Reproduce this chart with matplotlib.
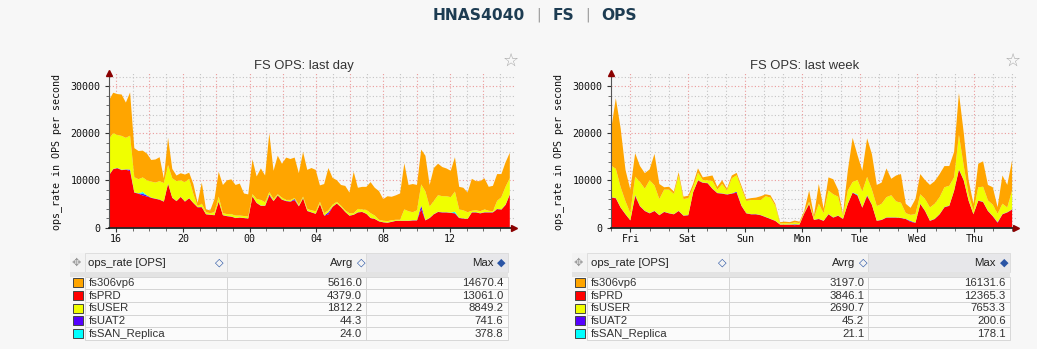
import numpy as np
import matplotlib.pyplot as plt
from matplotlib.patches import Rectangle

W, H = 1037, 349

series_names = ["fs306vp6", "fsPRD", "fsUSER", "fsUAT2", "fsSAN_Replica"]
series_colors = ["#FFA500", "#FF0000", "#F0FF00", "#5500FF", "#00FFFF"]

# last day: 15 min samples from 15:35, values in kOPS (UAT2 / SAN in OPS)
day_prd = [11.1, 12.4, 12.6, 12.2, 12.3, 12.0, 7.4, 7.2, 6.8, 6.6, 6.3, 6.1,
           5.9, 5.5, 9.3, 6.3, 5.6, 6.5, 5.5, 6.2, 5.2, 4.3, 4.3, 2.8,
           2.7, 2.6, 5.5, 2.6, 2.4, 2.3, 2.0, 2.1, 2.0, 1.9, 6.6, 5.2,
           4.6, 4.6, 6.8, 5.6, 6.8, 5.9, 5.6, 5.5, 5.8, 4.5, 6.2, 3.5,
           3.2, 2.9, 5.0, 2.5, 2.8, 4.4, 5.1, 4.3, 3.3, 2.5, 2.7, 3.2,
           3.3, 2.9, 2.0, 1.8, 1.3, 1.1, 1.0, 1.2, 1.4, 1.4, 1.4, 1.4,
           1.5, 1.5, 3.9, 1.5, 2.0, 2.8, 3.3, 3.2, 3.2, 3.1, 3.0, 2.0,
           1.9, 1.8, 3.2, 3.2, 3.0, 3.2, 3.2, 3.2, 3.9, 3.8, 4.8, 7.0]
day_user = [7.7, 7.6, 7.0, 7.2, 6.7, 7.2, 3.2, 3.0, 3.1, 3.2, 3.4, 3.4,
            3.9, 3.9, 3.9, 4.1, 4.2, 3.5, 4.1, 4.1, 1.9, 0.2, 0.7, 0.4,
            0.3, 0.6, 1.0, 0.4, 0.4, 0.5, 0.5, 0.4, 0.4, 0.4, 0.4, 0.8,
            1.2, 0.7, 0.5, 0.4, 0.2, 0.4, 0.2, 0.3, 0.2, 0.3, 0.3, 0.4,
            0.4, 0.5, 0.4, 0.5, 0.4, 0.4, 0.3, 0.3, 0.3, 0.5, 0.3, 0.7,
            0.5, 0.8, 1.0, 0.7, 0.3, 0.3, 0.3, 0.3, 0.2, 0.2, 2.4, 2.0,
            1.7, 2.1, 4.5, 6.1, 2.4, 2.8, 3.5, 3.4, 3.4, 3.3, 4.3, 1.8,
            1.7, 1.4, 0.3, 0.4, 0.4, 0.6, 0.3, 0.2, 1.7, 2.6, 3.8, 3.4]
day_306 = [8.2, 8.6, 8.7, 8.8, 7.5, 9.2, 6.2, 6.0, 5.7, 5.7, 4.6, 4.9,
           5.1, 1.0, 5.8, 2.0, 1.2, 1.5, 1.6, 1.3, 2.1, 0.7, 4.5, 0.6,
           0.6, 2.8, 5.3, 6.0, 7.2, 7.4, 6.5, 6.8, 4.8, 4.7, 7.4, 4.8,
           6.7, 5.7, 12.5, 6.0, 8.2, 7.2, 9.0, 8.7, 8.6, 6.7, 9.5, 8.3,
           9.0, 8.8, 3.5, 6.2, 9.0, 5.7, 4.6, 4.4, 5.2, 4.4, 8.8, 4.5,
           4.8, 4.9, 6.6, 5.9, 6.1, 4.6, 5.3, 5.0, 5.2, 5.6, 9.8, 5.6,
           6.0, 5.4, 7.4, 7.6, 4.6, 7.0, 6.7, 6.2, 5.9, 5.6, 7.3, 4.8,
           4.8, 4.2, 6.8, 6.2, 6.4, 6.6, 5.1, 5.4, 5.7, 4.9, 5.2, 5.4]
day_uat2 = [40, 45, 50, 60, 55, 300, 60, 50, 380, 200, 45, 40,
            35, 40, 60, 40, 35, 30, 40, 35, 30, 30, 40, 30,
            25, 30, 40, 30, 30, 25, 30, 30, 25, 25, 60, 40,
            45, 40, 220, 40, 45, 40, 50, 45, 260, 40, 45, 40,
            35, 30, 40, 30, 420, 35, 40, 30, 30, 25, 30, 35,
            30, 30, 35, 30, 25, 25, 30, 25, 30, 30, 35, 30,
            30, 35, 740, 40, 35, 40, 45, 40, 35, 40, 50, 35,
            30, 30, 35, 40, 35, 40, 35, 40, 45, 40, 50, 60]
day_san = [20, 25, 30, 25, 20, 30, 25, 20, 370, 30, 20, 25,
           20, 20, 25, 20, 20, 15, 20, 20, 15, 15, 20, 15,
           15, 15, 20, 15, 15, 15, 15, 15, 15, 15, 25, 20,
           25, 20, 20, 20, 25, 20, 25, 20, 20, 20, 25, 20,
           20, 15, 20, 15, 30, 20, 20, 15, 15, 15, 15, 20,
           15, 15, 20, 15, 15, 15, 15, 15, 15, 15, 20, 20,
           20, 20, 30, 25, 20, 20, 25, 20, 20, 20, 300, 20,
           20, 20, 20, 25, 20, 25, 20, 25, 25, 20, 30, 35]

# last week: 2 h samples, x in days counted from Fri 00:00
week_prd = [6.4, 6.2, 4.2, 2.8, 1.5, 6.7, 4.5, 3.5, 3.0, 3.5, 2.6, 3.3,
            3.0, 2.8, 3.5, 2.5, 2.6, 7.5, 10.0, 9.5, 9.4, 8.2, 7.3, 7.2,
            7.0, 7.2, 7.4, 4.6, 3.0, 2.8, 2.8, 2.6, 2.2, 1.8, 1.4, 0.6,
            0.6, 0.6, 0.5, 0.6, 3.0, 5.0, 1.6, 1.8, 1.4, 2.8, 2.1, 2.5,
            1.8, 5.0, 7.4, 6.8, 4.2, 6.7, 4.8, 1.4, 1.6, 2.1, 2.1, 2.1,
            2.0, 1.8, 1.2, 1.0, 5.0, 3.5, 1.4, 1.8, 2.8, 4.3, 4.6, 7.8,
            12.3, 10.0, 5.7, 2.8, 5.7, 5.4, 3.5, 2.4, 1.0, 2.8, 3.2, 3.8]
week_user = [6.7, 6.2, 4.3, 2.7, 1.5, 3.9, 5.1, 4.7, 7.0, 5.4, 3.4, 4.7,
             5.0, 4.3, 7.5, 3.5, 3.6, 1.0, 1.6, 0.5, 0.6, 1.6, 0.7, 2.0,
             0.8, 3.2, 3.5, 3.7, 2.6, 3.0, 3.0, 3.2, 4.4, 4.5, 3.2, 0.2,
             0.3, 0.2, 0.4, 0.3, 0.2, 0.4, 0.4, 3.2, 1.6, 5.0, 4.9, 4.0,
             0.6, 2.8, 2.2, 3.1, 3.4, 3.9, 3.2, 3.1, 3.4, 4.3, 4.7, 3.4,
             3.2, 1.2, 1.3, 1.8, 2.0, 2.5, 2.8, 3.2, 3.6, 4.2, 4.2, 2.8,
             7.3, 3.0, 1.3, 0.7, 2.8, 3.2, 2.2, 2.4, 1.8, 2.2, 1.0, 4.0]
week_306 = [7.5, 15.0, 12.5, 6.7, 5.0, 5.0, 3.4, 3.3, 2.3, 6.7, 3.2, 0.5,
            0.6, 0.5, 0.7, 0.5, 0.5, 0.7, 0.9, 0.6, 0.8, 1.2, 0.6, 0.8,
            0.4, 0.6, 0.5, 0.5, 0.4, 0.4, 0.5, 0.8, 0.4, 0.5, 0.4, 0.3,
            0.3, 0.3, 0.4, 0.3, 0.3, 2.4, 0.5, 4.2, 1.0, 2.8, 3.2, 1.5,
            0.4, 4.2, 9.4, 5.3, 4.4, 8.2, 7.5, 4.5, 4.5, 6.1, 3.5, 5.5,
            6.1, 2.0, 1.5, 3.2, 4.3, 4.0, 4.8, 4.8, 4.9, 4.5, 4.2, 5.4,
            8.9, 7.0, 3.0, 1.5, 5.0, 5.4, 3.3, 3.7, 1.4, 6.0, 4.8, 6.4]
week_uat2 = [50, 60, 45, 40, 35, 180, 50, 40, 45, 40, 35, 40,
             40, 35, 45, 40, 40, 60, 55, 50, 45, 50, 40, 45,
             40, 45, 200, 40, 35, 35, 40, 35, 40, 35, 30, 30,
             30, 30, 160, 30, 40, 45, 35, 40, 35, 45, 40, 40,
             35, 45, 50, 60, 50, 150, 45, 40, 35, 40, 45, 40,
             40, 35, 170, 35, 45, 40, 40, 45, 40, 45, 50, 60,
             70, 60, 50, 40, 45, 50, 40, 40, 120, 40, 45, 50]
week_san = [20, 25, 20, 20, 15, 30, 25, 20, 20, 20, 15, 20,
            20, 15, 20, 15, 15, 20, 25, 20, 20, 20, 15, 20,
            15, 20, 20, 20, 15, 15, 20, 15, 20, 15, 15, 15,
            15, 15, 15, 15, 20, 20, 15, 20, 15, 20, 20, 20,
            15, 20, 25, 170, 20, 25, 20, 15, 15, 20, 20, 20,
            20, 15, 15, 15, 25, 20, 20, 20, 20, 20, 25, 25,
            30, 25, 20, 20, 25, 25, 20, 20, 15, 20, 20, 25]

day_avg = [5616.0, 4379.0, 1812.2, 44.3, 24.0]
day_max = [14670.4, 13061.0, 8849.2, 741.6, 378.8]
week_avg = [3197.0, 3846.1, 2690.7, 45.2, 21.1]
week_max = [16131.6, 12365.3, 7653.3, 200.6, 178.1]

day_ticks = [16, 20, 24, 28, 32, 36]
day_ticklabels = ["16", "20", "00", "04", "08", "12"]
week_ticks = [0, 1, 2, 3, 4, 5, 6]
week_ticklabels = ["Fri", "Sat", "Sun", "Mon", "Tue", "Wed", "Thu"]

BG = "#f7f7f7"
MONO = "DejaVu Sans Mono"
SANS = "Liberation Sans"

fig = plt.figure(figsize=(W / 100, H / 100), dpi=100, facecolor=BG)

# pixel-space overlay for header, titles and tables
ov = fig.add_axes([0, 0, 1, 1], zorder=-1)
ov.set_xlim(0, W)
ov.set_ylim(H, 0)
ov.axis("off")


def draw_chart(left_px, x0, step, x1, prd, user, f306, uat2, san,
               major, minor, ticks, ticklabels):
    ax = fig.add_axes([left_px / W, 1 - 227.5 / H, 404.5 / W, (227.5 - 73.3) / H])
    ax.set_facecolor(BG)
    n = len(prd)
    x = np.linspace(x0, x0 + step * n, n)
    layers = [np.array(prd) * 1000, np.array(uat2), np.array(san),
              np.array(user) * 1000, np.array(f306) * 1000]
    cols = [series_colors[1], series_colors[3], series_colors[4], series_colors[2], series_colors[0]]
    ax.stackplot(x, layers, colors=cols, linewidth=0, zorder=2)

    for v in range(2000, 33000, 2000):
        if v % 10000:
            ax.axhline(v, color="#c4c4c4", lw=0.8, ls=(0, (1, 2)), zorder=0.5)
        else:
            ax.axhline(v, color="#eb9a9a", lw=0.8, ls=(0, (1, 2)), zorder=0.6)
    for v in minor:
        ax.axvline(v, color="#c4c4c4", lw=0.8, ls=(0, (1, 2)), zorder=0.5)
    for v in major:
        ax.axvline(v, color="#eb9a9a", lw=0.8, ls=(0, (1, 2)), zorder=0.6)

    ax.set_xlim(x0, x1)
    ax.set_ylim(0, 32800)
    ax.set_yticks([0, 10000, 20000, 30000])
    ax.set_yticks(range(2000, 32000, 2000), minor=True)
    ax.set_xticks(ticks)
    ax.set_xticklabels(ticklabels)
    ax.set_xticks(list(minor) + list(major), minor=True)
    ax.tick_params(which="major", length=3, width=0.8, labelsize=7.2, pad=3, colors="#333", labelcolor="#111")
    ax.tick_params(axis="x", which="major", pad=1.5)
    ax.tick_params(which="minor", length=2, width=0.6, colors="#555")
    for lab in ax.get_xticklabels() + ax.get_yticklabels():
        lab.set_family(MONO)

    for s in ("top", "right"):
        ax.spines[s].set_visible(False)
    ax.spines["left"].set_color("#555")
    ax.spines["bottom"].set_color("#111")
    ax.spines["bottom"].set_linewidth(1.2)
    ax.plot(0, 1, marker="^", color="#8b0000", ms=4.5, transform=ax.transAxes, clip_on=False, zorder=5)
    ax.plot(1, 0, marker=">", color="#8b0000", ms=4.5, transform=ax.transAxes, clip_on=False, zorder=5)
    return ax


draw_chart(109, 15.58, 0.25, 15.58 + 404.5 / 16.7, day_prd, day_user, day_306, day_uat2, day_san,
           major=range(16, 40, 2), minor=range(17, 40, 2), ticks=day_ticks, ticklabels=day_ticklabels)
draw_chart(611, -0.34, 1 / 12, -0.34 + 404.5 / 57.3, week_prd, week_user, week_306, week_uat2, week_san,
           major=range(0, 7), minor=[d + f for d in range(-1, 7) for f in (1 / 3, 2 / 3) if -0.34 < d + f < 6.7],
           ticks=week_ticks, ticklabels=week_ticklabels)

# y axis labels
for xl in (57, 559):
    ov.text(xl, 152, "ops_rate in OPS per second", rotation=90, ha="center", va="center",
            family=MONO, fontsize=7.2, color="#111")

# chart titles and star icons
ov.text(303.5, 66, "FS OPS: last day", ha="center", va="center", family=SANS, fontsize=9.4, color="#333")
ov.text(805, 66, "FS OPS: last week", ha="center", va="center", family=SANS, fontsize=9.4, color="#333")
for sx in (511, 1013):
    ov.text(sx, 61, "\u2606", ha="center", va="center", family="DejaVu Sans", fontsize=13, color="#a8a8a8")

# page header
hc = "#1d3c52"
ov.text(478.8, 15, "HNAS4040", ha="center", va="center", family="DejaVu Sans", weight="bold", fontsize=11.2, color=hc)
ov.text(563, 15, "FS", ha="center", va="center", family="DejaVu Sans", weight="bold", fontsize=11.2, color=hc)
ov.text(619, 15, "OPS", ha="center", va="center", family="DejaVu Sans", weight="bold", fontsize=11.2, color=hc)
for px in (539, 588):
    ov.text(px, 15, "|", ha="center", va="center", family="DejaVu Sans", fontsize=10, color="#999")


def draw_table(dx, avg, mx):
    cols = [(85, 227), (227, 366), (366, 507.5)]
    # header
    ov.add_patch(Rectangle((70 + dx, 253), 15, 18.5, fc="#f3f3f3", ec="none"))
    for i, (a, b) in enumerate(cols):
        fc = "#e7e7ea" if i == 2 else "#f3f3f3"
        ov.add_patch(Rectangle((a + dx, 253), b - a, 18.5, fc=fc, ec="#dadada", lw=0.6))
    ov.add_patch(Rectangle((70 + dx, 271.5), 437.5, 5, fc="#e3e3e3", ec="none"))
    ov.text(76 + dx, 262.5, "\u2725", ha="center", va="center", family="DejaVu Sans", fontsize=8, color="#9a9a9a")
    ov.text(88.5 + dx, 262.5, "ops_rate [OPS]", ha="left", va="center", family=SANS, fontsize=8.2, color="#222")
    ov.text(353 + dx, 262.5, "Avrg", ha="right", va="center", family=SANS, fontsize=8.2, color="#222")
    ov.text(493.5 + dx, 262.5, "Max", ha="right", va="center", family=SANS, fontsize=8.2, color="#222")
    for sx, glyph in ((219.5, "\u25C7"), (361, "\u25C7"), (501.5, "\u25C6")):
        ov.text(sx + dx, 262.5, glyph, ha="center", va="center", family="DejaVu Sans", fontsize=8, color="#2a55a5")
    # rows
    for r in range(len(series_names)):
        top = 276.5 + 12.7 * r
        yc = top + 6.35
        for a, b in cols:
            ov.add_patch(Rectangle((a + dx, top), b - a, 12.7, fc="#fbfbfb", ec="#d2d2d2", lw=0.6))
        ov.add_patch(Rectangle((73 + dx, yc - 4.5), 10, 9, fc=series_colors[r], ec="#444", lw=0.7))
        ov.text(88.5 + dx, yc, series_names[r], ha="left", va="center", family=SANS, fontsize=8.2, color="#333")
        ov.text(362 + dx, yc, f"{avg[r]:.1f}", ha="right", va="center", family=SANS, fontsize=8.2, color="#333")
        ov.text(503.5 + dx, yc, f"{mx[r]:.1f}", ha="right", va="center", family=SANS, fontsize=8.2, color="#333")


draw_table(0, day_avg, day_max)
draw_table(502.3, week_avg, week_max)

fig.savefig("out.png", dpi=100, facecolor=BG)
